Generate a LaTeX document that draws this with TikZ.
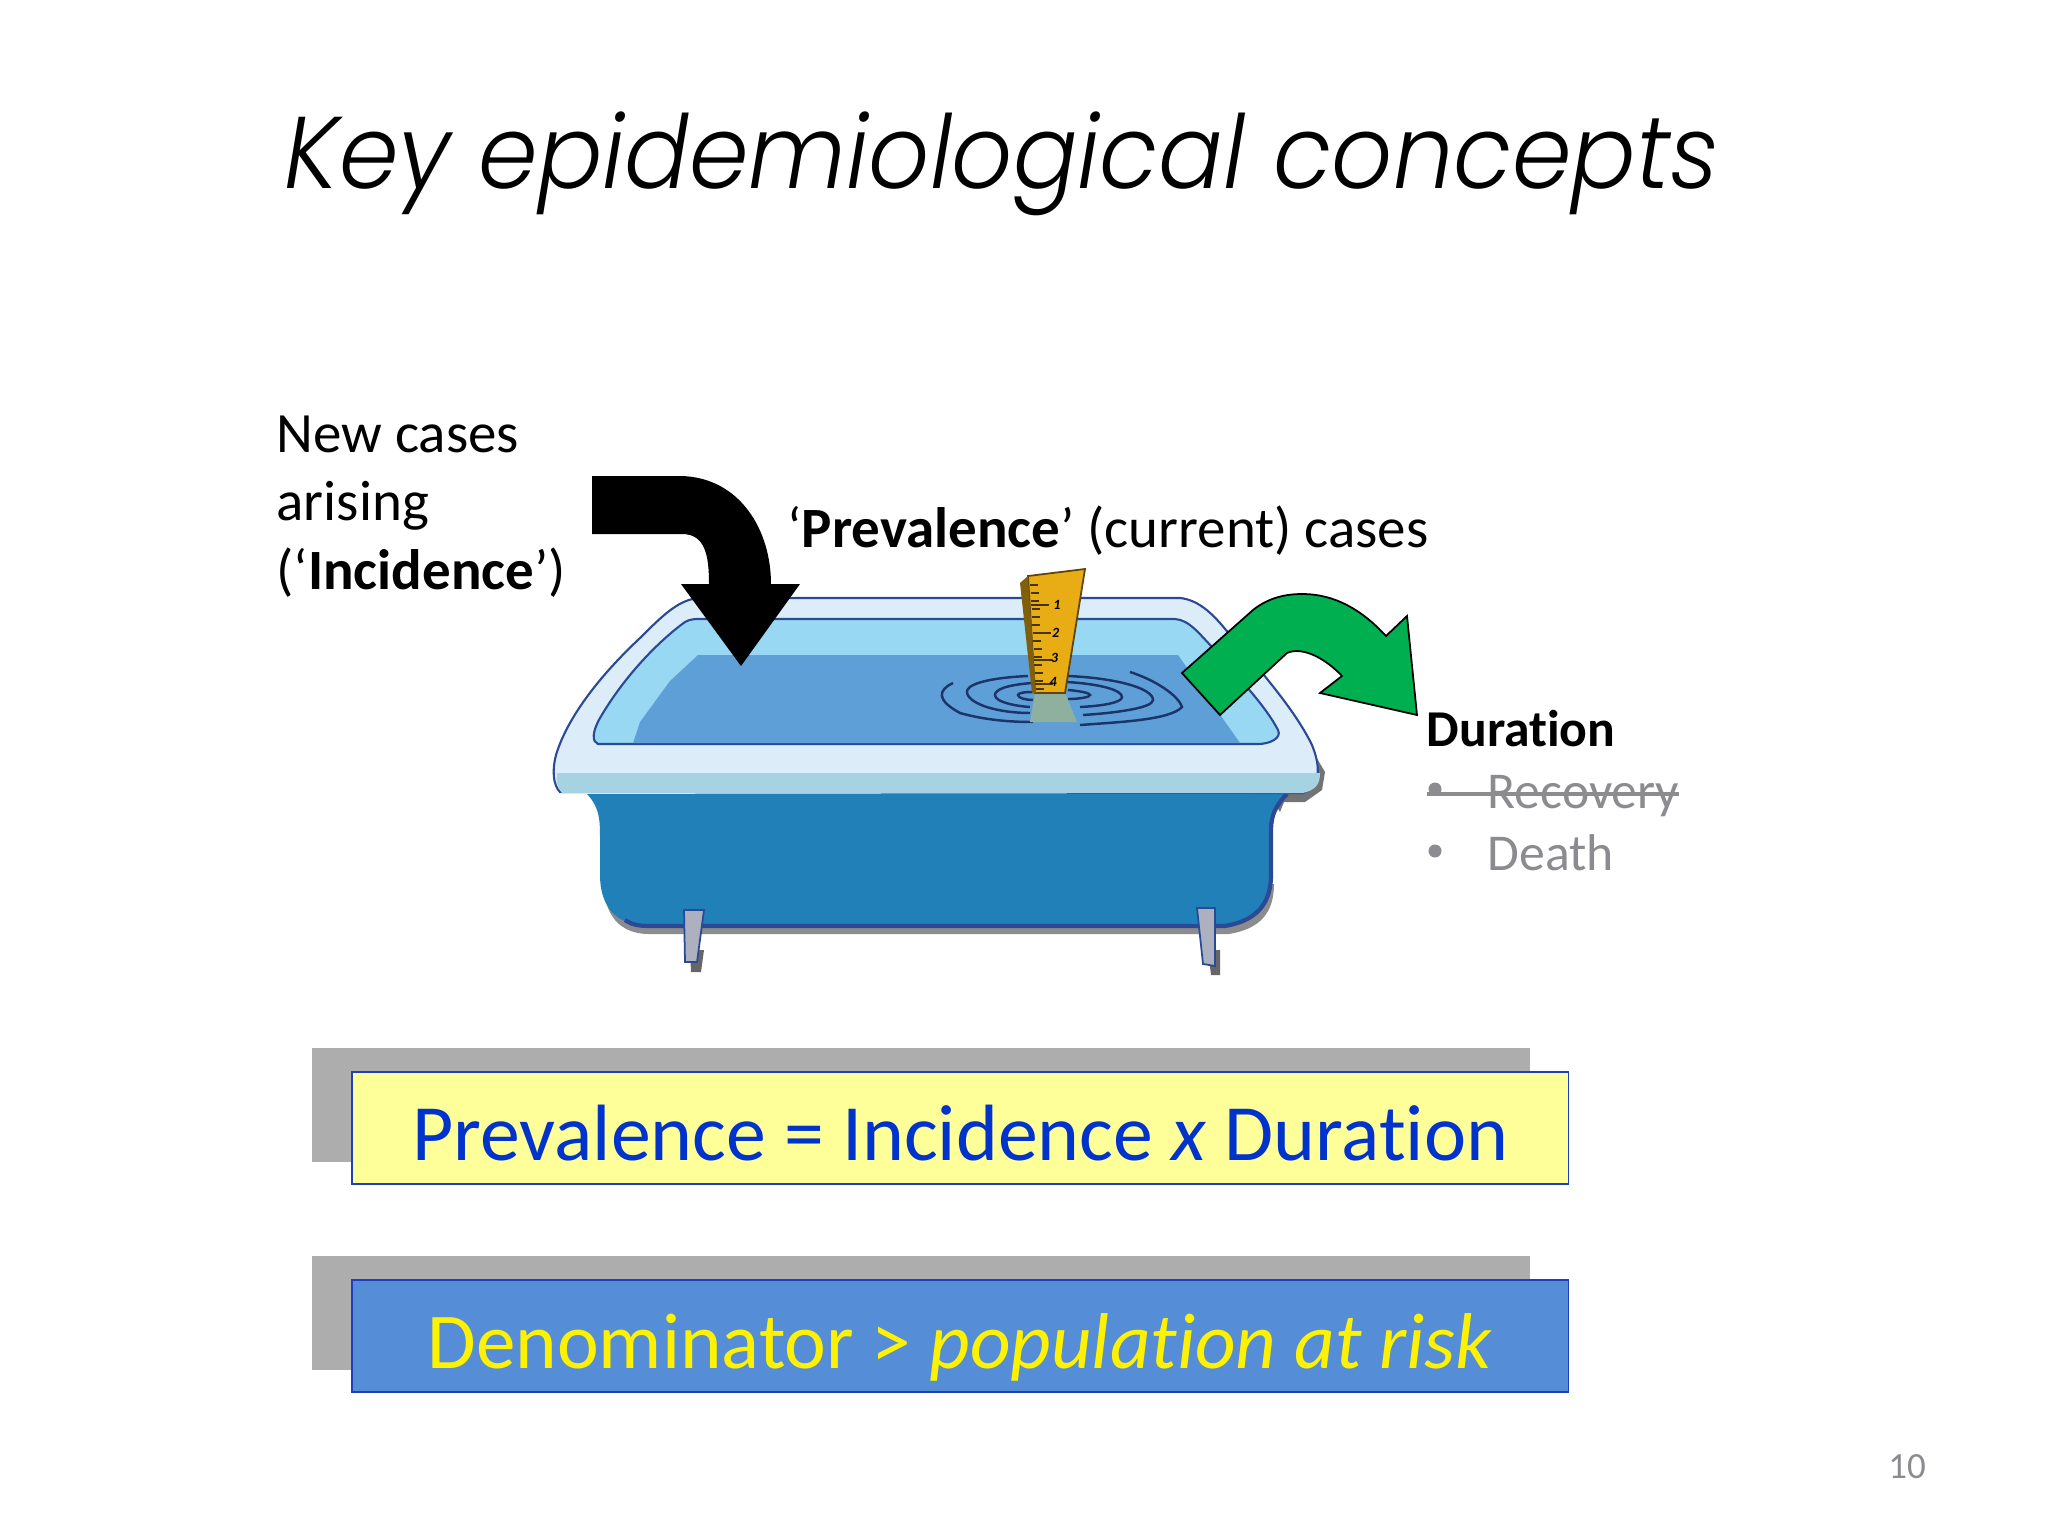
\documentclass[tikz,border=0pt]{standalone}
\usepackage{fontspec}
\setmainfont{Carlito}[Ligatures=NoCommon]
\newfontfamily\titlefont{Poppins Light}[ItalicFont=Poppins Light Italic]
\usetikzlibrary{positioning}
\definecolor{rimcol}{HTML}{DCECF8}
\definecolor{bandcol}{HTML}{A6D3E2}
\definecolor{basincol}{HTML}{98D8F2}
\definecolor{watercol}{HTML}{5E9FD8}
\definecolor{bodycol}{HTML}{2280B8}
\definecolor{edgecol}{HTML}{2A4A96}
\definecolor{legcol}{HTML}{ADB0BF}
\definecolor{rulercol}{HTML}{E8AC14}
\definecolor{wetcol}{HTML}{8FB09E}
\definecolor{outgreen}{HTML}{00B050}
\definecolor{greyback}{HTML}{ADADAD}
\definecolor{paleyellow}{HTML}{FFFF99}
\definecolor{boxblue}{HTML}{558DD6}
\definecolor{boxedge}{HTML}{1F3FBF}
\definecolor{textblue}{HTML}{0033CC}
\definecolor{mutedgrey}{HTML}{8C8C90}

\begin{document}
\begin{tikzpicture}[x=0.01cm,y=-0.01cm,
    lbl/.style={anchor=base west,inner sep=0pt,font=\fontsize{16.2}{19.4}\selectfont},
    sidelbl/.style={anchor=base west,inner sep=0pt,text=mutedgrey,font=\fontsize{14.7}{17}\selectfont},
    backbox/.style={fill=greyback,minimum width=12.18cm,minimum height=1.14cm,inner sep=0pt},
    formula/.style={draw=boxedge,line width=0.5pt,minimum width=12.16cm,minimum height=1.12cm,inner sep=0pt,
      anchor=north west,text height=0.75cm,text depth=0.11cm,font=\fontsize{22.7}{27}\selectfont},
    ripple/.style={draw=edgecol!70!black,line width=0.7pt},
    tick/.style={draw=black!70!rulercol,line width=0.6pt}]
  \useasboundingbox (0,0) rectangle (2048,1536);

  \node[anchor=base west,inner sep=0pt,font=\fontsize{29}{34}\selectfont\titlefont\itshape] (title) at (284,188) {\scalebox{0.938}[1]{Key epidemiological concepts}};

  \node[lbl] (newcases) at (276,452) {New cases};
  \node[lbl] (arising) at (276,520) {arising};
  \node[lbl] (incidence) at (276,589) {(‘\textbf{Incidence}’)};
  \node[lbl] (prevalence) at (787,547) {‘\textbf{Prevalence}’ (current) cases};

  % tub
  \fill[black!55] (1312,750) -- (1325,772) -- (1322,790) -- (1305,802) -- (1284,802) -- (1280,812) -- (1270,795) -- cycle;
  \fill[black!45,shift={(4,9)}] (600,875) .. controls (600,905) and (615,925) .. (645,925) -- (1225,925)
    .. controls (1255,920) and (1270,905) .. (1270,875) -- cycle;
  \fill[black!60] (704,950) -- (701,972) -- (691,972) -- (690,950) -- cycle;
  \fill[black!60] (1220,950) -- (1220,975) -- (1211,975) -- (1208,950) -- cycle;
  \path[fill=bodycol] (587,794) .. controls (600,808) and (600,820) .. (600,840) -- (600,875)
    .. controls (600,905) and (615,925) .. (645,925) -- (1225,925) .. controls (1255,920) and (1270,905) .. (1270,875)
    -- (1270,830) .. controls (1270,815) and (1275,805) .. (1286,794) -- cycle;
  \draw[edgecol,line width=1.2pt] (625,920) .. controls (632,925) and (640,926) .. (650,926) -- (1225,926)
    .. controls (1255,921) and (1271,905) .. (1271,875) -- (1271,830) .. controls (1271,815) and (1276,805) .. (1287,794);
  \path[fill=legcol,draw=edgecol,line width=0.5pt] (684,910) -- (704,910) -- (697,962) -- (685,962) -- cycle;
  \path[fill=legcol,draw=edgecol,line width=0.5pt] (1197,908) -- (1215,908) -- (1215,966) -- (1203,964) -- cycle;
  \path[fill=rimcol,draw=edgecol,line width=0.6pt] (560,792) .. controls (553,785) and (552,770) .. (556,755)
    .. controls (565,725) and (590,685) .. (640,638) .. controls (665,613) and (680,599) .. (700,598) -- (1180,598)
    .. controls (1200,600) and (1215,616) .. (1230,635) .. controls (1260,670) and (1295,710) .. (1312,745)
    .. controls (1320,765) and (1322,785) .. (1303,793) -- cycle;
  \path[fill=bandcol] (557,773) -- (1320,773) .. controls (1320,785) and (1315,790) .. (1303,793) -- (562,793)
    .. controls (557,788) and (556,780) .. (557,773) -- cycle;
  \path[fill=basincol,draw=edgecol,line width=0.6pt] (598,744) .. controls (592,742) and (592,732) .. (600,718)
    .. controls (625,675) and (660,640) .. (685,622) .. controls (690,619) and (695,619) .. (700,619) -- (1175,619)
    .. controls (1190,620) and (1200,635) .. (1215,650) .. controls (1240,680) and (1265,705) .. (1278,730)
    .. controls (1282,738) and (1270,744) .. (1258,744) -- cycle;
  \fill[watercol] (633,743) -- (640,722) -- (670,681) -- (698,655) -- (1178,655) -- (1240,743) -- cycle;

  % ripples round the ruler
  \draw[ripple] (953,683) .. controls (938,690) and (936,700) .. (960,713) .. controls (985,720) and (1010,722) .. (1033,722);
  \draw[ripple] (1130,672) .. controls (1155,680) and (1178,695) .. (1182,707) .. controls (1170,720) and (1120,722) .. (1080,725);
  \draw[ripple] (1028,676) .. controls (985,678) and (965,685) .. (967,693) .. controls (970,705) and (1000,713) .. (1030,713);
  \draw[ripple] (1068,676) .. controls (1115,678) and (1153,688) .. (1153,700) .. controls (1153,708) and (1115,713) .. (1083,715);
  \draw[ripple] (1032,683) .. controls (1005,685) and (995,690) .. (995,695) .. controls (995,702) and (1015,706) .. (1030,707);
  \draw[ripple] (1067,682) .. controls (1100,684) and (1122,690) .. (1122,697) .. controls (1122,703) and (1100,706) .. (1080,707);
  \draw[ripple] (1033,692) .. controls (1024,692) and (1018,693) .. (1018,695) .. controls (1018,698) and (1026,700) .. (1033,700);
  \draw[ripple] (1068,690) .. controls (1080,691) and (1090,693) .. (1090,695) .. controls (1090,697) and (1080,699) .. (1068,699);

  % ruler
  \fill[wetcol] (1035,693) -- (1065,693) -- (1077,722) -- (1030,722) -- cycle;
  \path[fill=rulercol,draw=black!60!rulercol,line width=0.5pt] (1028,576) -- (1085,569) -- (1065,693) -- (1035,693) -- cycle;
  \fill[black!45!rulercol] (1020,583) -- (1028,576) -- (1036,693) -- (1032,693) -- cycle;
  \foreach \ty in {585,593,...,689} {\draw[tick] ({1030+(\ty-577)*0.05},\ty) -- +(8,0);}
  \foreach \ty in {605,633,660,684} {\draw[tick] ({1030+(\ty-577)*0.05},\ty) -- +(18,0);}
  \foreach \ty/\num in {605/1,633/2,658/3,682/4}
    \node[inner sep=0pt,font=\fontsize{4}{4}\selectfont\bfseries\itshape] (num\num) at ({1057+(\ty-605)*(-0.05)},\ty) {\num};

  % flow arrows
  \path[fill=black] (592,476) -- (682,476) .. controls (740,478) and (771,530) .. (771,584) -- (800,584) -- (741,666)
    -- (681,584) -- (709,584) .. controls (709,555) and (705,534) .. (682,534) -- (592,534) -- cycle;
  \path[fill=outgreen,draw=black,line width=0.5pt] (1182,673) -- (1220,715) -- (1287,653) .. controls (1300,647) and (1322,655) .. (1342,676)
    -- (1320,693) -- (1417,715) -- (1407,616) -- (1386,636) .. controls (1362,610) and (1335,594) .. (1302,594)
    .. controls (1285,594) and (1268,598) .. (1253,610) -- cycle;

  \node[sidelbl,text=black] (duration) at (1426,746) {\textbf{Duration}};
  \node[sidelbl] (recovery) at (1487,808) {Recovery};
  \node[sidelbl] (death) at (1487,870) {Death};
  \fill[mutedgrey] (1435,789) circle (6.5);
  \fill[mutedgrey] (1435,851) circle (6.5);
  \draw[mutedgrey,line width=1.1pt] (1427,794) -- (1679,794);

  \node[backbox] (backprev) at (921,1105) {};
  \node[formula,fill=paleyellow,text=textblue] (prev) at ([shift={(40,24)}]backprev.north west) {Prevalence = Incidence \textit{x} Duration};
  \node[backbox] (backdenom) at (921,1313) {};
  \node[formula,fill=boxblue,text=yellow,font=\fontsize{22.5}{27}\selectfont] (denom) at ([shift={(40,24)}]backdenom.north west) {Denominator > \textit{population at risk}};

  \node[anchor=base,inner sep=0pt,text=mutedgrey,font=\fontsize{10.5}{12}\selectfont] (pagenum) at (1907,1478) {10};
\end{tikzpicture}
\end{document}
